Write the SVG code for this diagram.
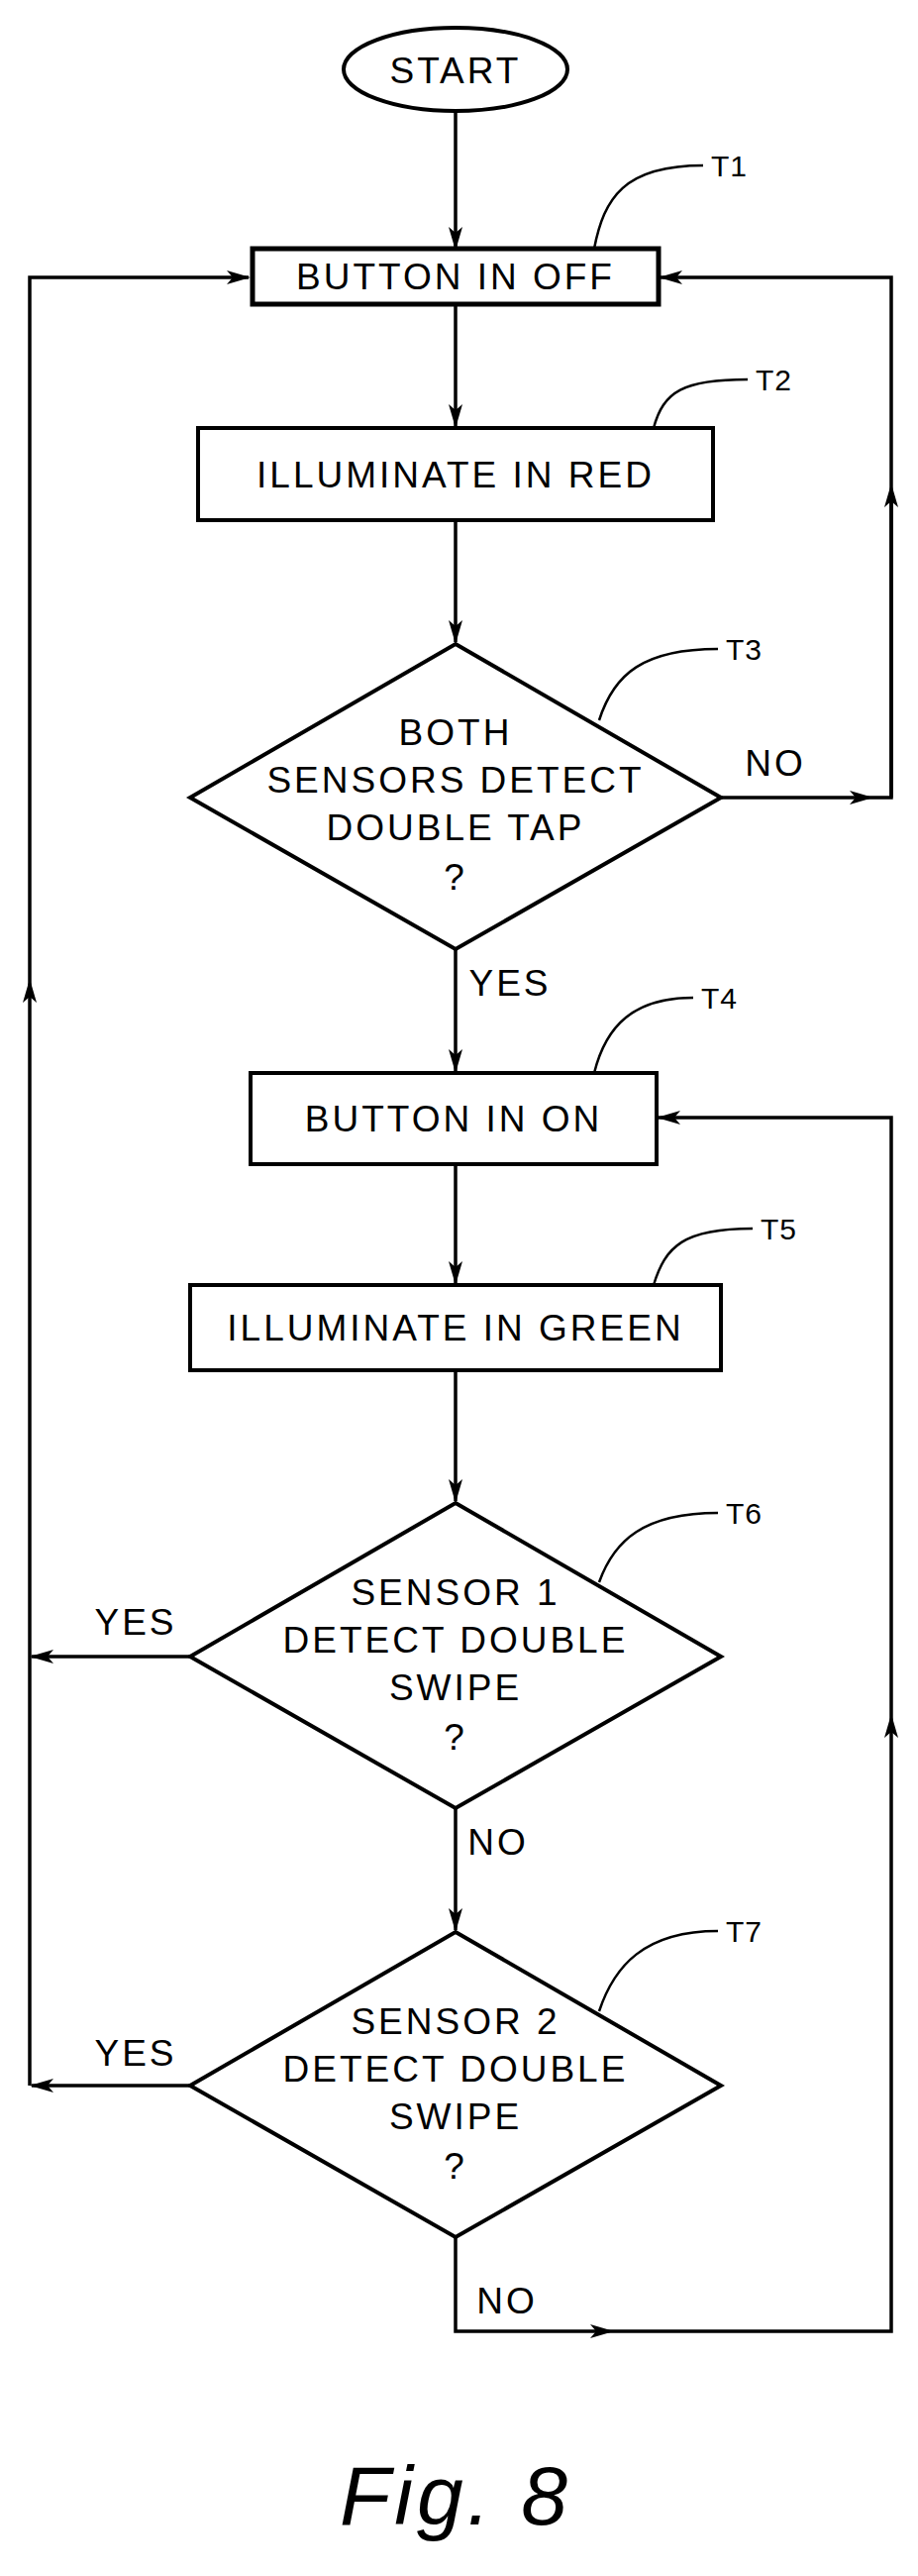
<svg xmlns="http://www.w3.org/2000/svg" width="927" height="2600" viewBox="0 0 927 2600">
<style>
.s{fill:#fff;stroke:#000;stroke-width:4}
.c{fill:none;stroke:#000;stroke-width:3.5}
.l{fill:none;stroke:#000;stroke-width:2.5}
text{font-family:"Liberation Sans",Arial,sans-serif;font-size:37px;text-anchor:middle;letter-spacing:3px}
.t{font-size:30px;text-anchor:start;letter-spacing:1px}
</style>
<defs>
<marker id="m" viewBox="-12 -8 24 16" refX="0" refY="0" markerWidth="24" markerHeight="16" orient="auto" markerUnits="userSpaceOnUse">
<path d="M-12,-7 L12,0 L-12,7 L-6,0 z"/>
</marker>
<marker id="e" viewBox="-22 -8 24 16" refX="0" refY="0" markerWidth="24" markerHeight="16" orient="auto" markerUnits="userSpaceOnUse">
<path d="M-22,-7 L2,0 L-22,7 L-16,0 z"/>
</marker>
</defs>
<g id="connectors">
<path class="c" d="M460 112 V251" marker-end="url(#e)"/>
<path class="c" d="M460 307 V430" marker-end="url(#e)"/>
<path class="c" d="M460 525 V648" marker-end="url(#e)"/>
<path class="c" d="M460 958 V1081" marker-end="url(#e)"/>
<path class="c" d="M460 1175 V1295" marker-end="url(#e)"/>
<path class="c" d="M460 1383 V1515" marker-end="url(#e)"/>
<path class="c" d="M460 1825 V1948" marker-end="url(#e)"/>
<path class="c" d="M728 805 H870" marker-end="url(#m)"/>
<path class="c" d="M870 805 H900 V500"/>
<path class="c" d="M900 805 V500" marker-end="url(#m)"/>
<path class="c" d="M900 500 V280 H667" marker-end="url(#e)"/>
<path class="c" d="M460 2258 V2353 H608" marker-end="url(#m)"/>
<path class="c" d="M608 2353 H900 V1742" marker-end="url(#m)"/>
<path class="c" d="M900 1742 V1128 H665" marker-end="url(#e)"/>
<path class="c" d="M192 1672 H32" marker-end="url(#e)"/>
<path class="c" d="M192 2105 H32" marker-end="url(#e)"/>
<path class="c" d="M30 2105 V1000" marker-end="url(#m)"/>
<path class="c" d="M30 1000 V280 H251" marker-end="url(#e)"/>
<path class="l" d="M600 251 C610 200 630 167 710 167"/>
<path class="l" d="M660 432 C670 395 690 383 755 383"/>
<path class="l" d="M605 727 C620 680 650 655 725 655"/>
<path class="l" d="M600 1083 C612 1035 640 1007 700 1007"/>
<path class="l" d="M660 1297 C672 1258 690 1240 760 1240"/>
<path class="l" d="M605 1597 C620 1555 650 1527 725 1527"/>
<path class="l" d="M605 2030 C620 1985 650 1949 725 1949"/>
</g>
<g id="start"><ellipse class="s" cx="460" cy="70" rx="113" ry="42"/><text x="460" y="84">START</text></g>
<g id="T1"><rect class="s" x="255" y="251" width="410" height="56" style="stroke-width:5"/><text x="460" y="292">BUTTON IN OFF</text><text class="t" x="718" y="178">T1</text></g>
<g id="T2"><rect class="s" x="200" y="432" width="520" height="93"/><text x="460" y="492">ILLUMINATE IN RED</text><text class="t" x="763" y="394">T2</text></g>
<g id="T3"><path class="s" d="M460 650 L728 805 L460 958 L192 805 Z"/><text x="460" y="752">BOTH</text><text x="460" y="800">SENSORS DETECT</text><text x="460" y="848">DOUBLE TAP</text><text x="460" y="898">?</text><text class="t" x="733" y="666">T3</text></g>
<g id="T4"><rect class="s" x="253" y="1083" width="410" height="92"/><text x="458" y="1142">BUTTON IN ON</text><text class="t" x="708" y="1018">T4</text></g>
<g id="T5"><rect class="s" x="192" y="1297" width="536" height="86"/><text x="460" y="1353">ILLUMINATE IN GREEN</text><text class="t" x="768" y="1251">T5</text></g>
<g id="T6"><path class="s" d="M460 1517 L728 1672 L460 1825 L192 1672 Z"/><text x="460" y="1620">SENSOR 1</text><text x="460" y="1668">DETECT DOUBLE</text><text x="460" y="1716">SWIPE</text><text x="460" y="1766">?</text><text class="t" x="733" y="1538">T6</text></g>
<g id="T7"><path class="s" d="M460 1950 L728 2105 L460 2258 L192 2105 Z"/><text x="460" y="2053">SENSOR 2</text><text x="460" y="2101">DETECT DOUBLE</text><text x="460" y="2149">SWIPE</text><text x="460" y="2199">?</text><text class="t" x="733" y="1960">T7</text></g>
<g id="labels">
<text x="783" y="783">NO</text><text x="515" y="1005">YES</text>
<text x="137" y="1650">YES</text><text x="503" y="1872">NO</text>
<text x="137" y="2085">YES</text><text x="512" y="2335">NO</text>
<text x="460" y="2548" style="font-size:84px;font-style:italic;letter-spacing:4px">Fig. 8</text>
</g>
</svg>
